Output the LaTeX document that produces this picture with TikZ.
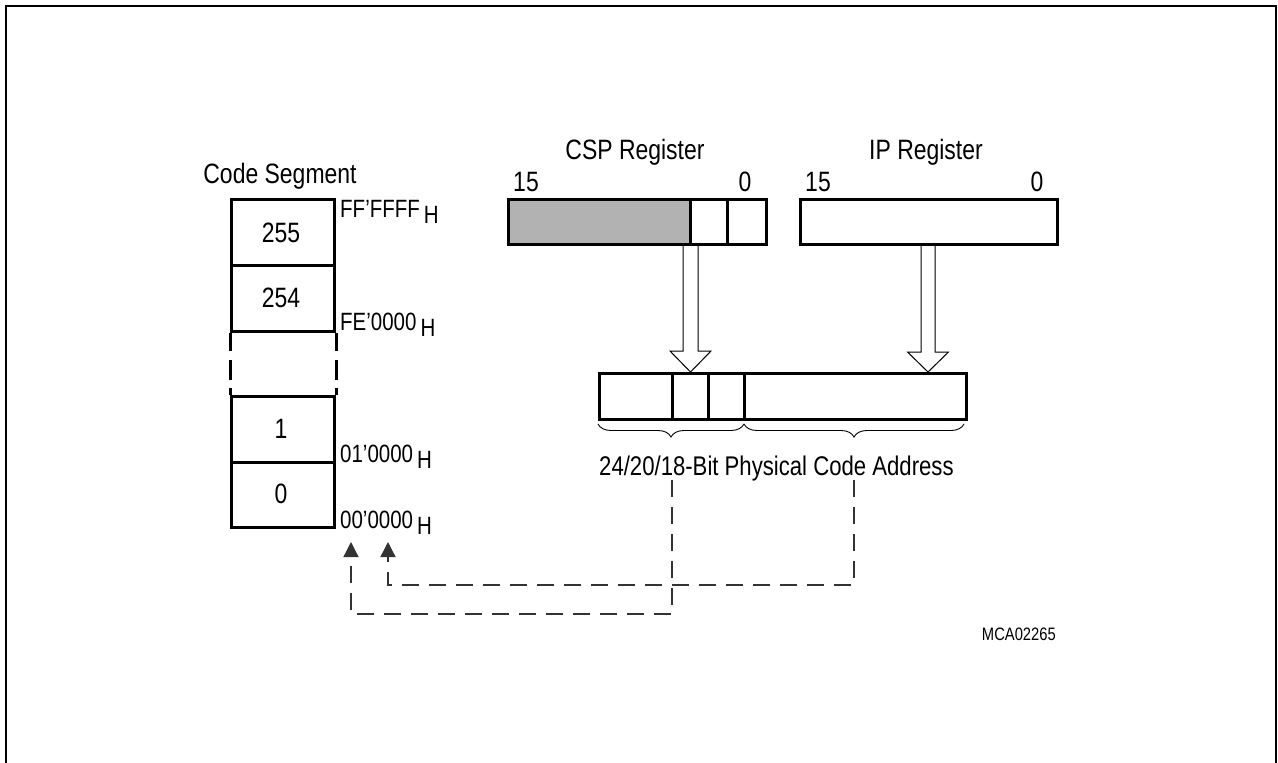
\documentclass[tikz,border=0pt]{standalone}
\usepackage{fontspec}
\setmainfont{Liberation Sans}[FakeStretch=0.82]
\usetikzlibrary{decorations.pathreplacing,calc,arrows.meta}
\begin{document}
\begin{tikzpicture}[x=1pt,y=-1pt,
  box/.style={draw,line width=3pt,inner sep=0pt,anchor=north west},
  big/.style={font=\fontsize{28}{30}\selectfont,inner sep=0pt},
  addr/.style={font=\fontsize{25}{27}\selectfont,inner sep=0pt,anchor=base west},
  dline/.style={draw=black!80,line width=1.3pt,dash pattern=on 17pt off 10pt},
  hollow/.style={draw,line width=1pt,fill=white,line join=miter},
  brc/.style={decorate,decoration={brace,amplitude=13pt,mirror},line width=0.9pt},
  tip/.style={-{Triangle[width=15pt,length=15pt]}}]
\useasboundingbox (0,0) rectangle (1278,763);
% frame
\draw[line width=2.5pt] (6,763) -- (6,6) -- (1276,6) -- (1276,763);

% ---- code segment ----
\node[big,anchor=base] (cstitle) at (280,183) {Code Segment};
\node[box,minimum width=103pt,minimum height=66pt] (c255) at (230,198) {};
\node[box,minimum width=103pt,minimum height=66pt] (c254) at (230,264) {};
\node[box,minimum width=103pt,minimum height=66pt] (c1) at (230,395) {};
\node[box,minimum width=103pt,minimum height=65pt] (c0) at (230,461) {};
\node[big,anchor=base] (t255) at (281,242) {255};
\node[big,anchor=base] (t254) at (281,307) {254};
\node[big,anchor=base] (t1) at (281,438) {1};
\node[big,anchor=base] (t0) at (281,503) {0};
\draw[line width=3pt,dash pattern=on 18pt off 9pt on 20pt off 8pt on 20pt]
  (c254.south west) -- (c1.north west);
\draw[line width=3pt,dash pattern=on 18pt off 9pt on 20pt off 8pt on 20pt]
  (c254.south east) -- (c1.north east);
\newcommand{\subH}{\hspace{4pt}\raisebox{-6pt}{H}}
\node[addr] (aFF) at (340,217) {FF’FFFF\subH};
\node[addr] (aFE) at (340,330) {FE’0000\subH};
\node[addr] (a01) at (340,462) {01’0000\subH};
\node[addr] (a00) at (340,528) {00’0000\subH};

% ---- CSP register ----
\fill[black!30] (507,198) rectangle (690,243);
\node[box,minimum width=258pt,minimum height=45pt] (csp) at (507,198) {};
\draw[line width=3pt] (690,198) -- (690,243) (727,198) -- (727,243);
\node[big,anchor=base] (csptitle) at (635,159) {CSP Register};
\node[big,anchor=base] (csp15) at (526,191) {15};
\node[big,anchor=base] (csp0) at (745,191) {0};

% ---- IP register ----
\node[box,minimum width=257pt,minimum height=45pt] (ip) at (799,198) {};
\node[big,anchor=base] (iptitle) at (926,159) {IP Register};
\node[big,anchor=base] (ip15) at (818,191) {15};
\node[big,anchor=base] (ip0) at (1037,191) {0};

% ---- physical address ----
\node[box,minimum width=367pt,minimum height=46pt] (phys) at (598,372) {};
\draw[line width=3pt] (672,372) -- (672,418) (708,372) -- (708,418) (744,372) -- (744,418);
\draw[brc] (598,424) -- (744,424);
\draw[brc] (744,424) -- (964,424);
\node[font=\fontsize{27}{29}\selectfont,inner sep=0pt,anchor=base west] (physlbl) at (599,475) {24/20/18-Bit Physical Code Address};

% ---- hollow arrows ----
\draw[hollow] (csp.south -| 683,0) -- (683,351) -- (670,351) -- (phys.north -| 690.5,0)
  -- (711,351) -- (698,351) -- (csp.south -| 698,0);
\draw[hollow] (ip.south -| 921,0) -- (921,352) -- (907.5,352) -- (phys.north -| 928,0)
  -- (948.5,352) -- (935,352) -- (ip.south -| 935,0);

% ---- dashed feedback ----
\coordinate (ls) at (672,480);
\coordinate (rs) at (854,480);
\coordinate (lt) at (351,542);
\coordinate (rt) at (388,542);
\draw[dline,tip] (ls) -- (672,614) -- (lt |- 0,614) -- (lt);
\draw[dline,tip] (rs) -- (854,585) -- (rt |- 0,585) -- (rt);

\node[font=\fontsize{18}{20}\selectfont,inner sep=0pt,anchor=base east] (mca) at (1056,640) {MCA02265};
\end{tikzpicture}
\end{document}
